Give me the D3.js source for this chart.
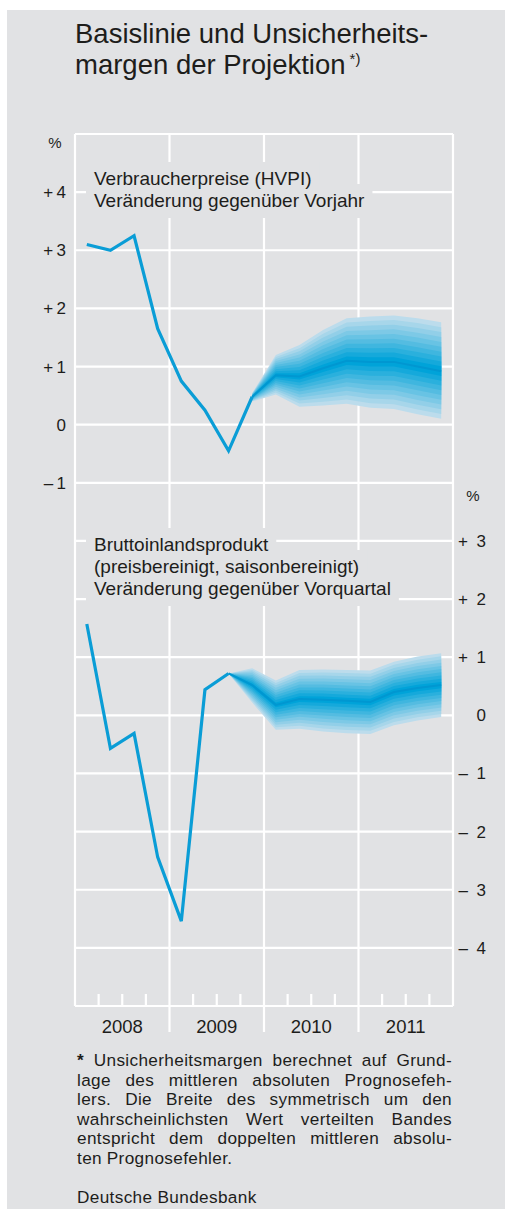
<!DOCTYPE html>
<html>
<head>
<meta charset="utf-8">
<script src="https://cdn.jsdelivr.net/npm/d3@7"></script>
<style>
  body { margin: 0; background: #fff; }
  svg text { font-family: "Liberation Sans", Arial, sans-serif; fill: #1d1d1b; }
</style>
</head>
<body>
<div id="chart"></div>
<script>
// Quarters 2008 Q1 .. 2011 Q4 (index 0..15)
const years = ["2008", "2009", "2010", "2011"];

// HVPI, change on previous year (%)
const hvpiActual = [3.1, 3.0, 3.25, 1.65, 0.75, 0.25, -0.45, 0.48];      // idx 0..7
const hvpiProjStart = 7;
const hvpiCenter = [0.48, 0.85, 0.83, 0.97, 1.10, 1.08, 1.08, 1.00, 0.92]; // idx 7..15
const hvpiUpper  = [0.54, 1.20, 1.37, 1.63, 1.83, 1.86, 1.88, 1.83, 1.76];
const hvpiLower  = [0.40, 0.52, 0.31, 0.33, 0.36, 0.29, 0.27, 0.18, 0.10];

// GDP, price & seasonally adjusted, change on previous quarter (%)
const gdpActual = [1.57, -0.57, -0.31, -2.44, -3.54, 0.44, 0.72];        // idx 0..6
const gdpProjStart = 6;
const gdpCenter = [0.72, 0.52, 0.18, 0.28, 0.27, 0.25, 0.23, 0.40, 0.47, 0.52]; // idx 6..15
const gdpUpper  = [0.72, 0.81, 0.60, 0.78, 0.79, 0.78, 0.77, 0.92, 1.01, 1.07];
const gdpLower  = [0.72, 0.22, -0.25, -0.23, -0.28, -0.31, -0.32, -0.17, -0.09, -0.03];

const hvpiTicks = [4, 3, 2, 1, 0, -1];
const gdpTicks = [3, 2, 1, 0, -1, -2, -3, -4];

const footLines = [
  "Unsicherheitsmargen berechnet auf Grund-",
  "lage des mittleren absoluten Prognosefeh-",
  "lers. Die Breite des symmetrisch um den",
  "wahrscheinlichsten Wert verteilten Bandes",
  "entspricht dem doppelten mittleren absolu-",
  "ten Prognosefehler."
];

const W = 515, H = 1210;
const bg = "#e1e2e4";
const blue = "#0a9dd6";

const svg = d3.select("#chart").append("svg")
  .attr("width", W).attr("height", H);

svg.append("rect").attr("x", 7).attr("y", 10).attr("width", 498).attr("height", 1199)
  .attr("fill", bg);

// Title (one text block, two lines)
const title = svg.append("text").style("font-size", "27.5px");
title.append("tspan").attr("x", 75).attr("y", 43).text("Basislinie und Unsicherheits-");
title.append("tspan").attr("x", 75).attr("y", 74).text("margen der Projektion");
title.append("tspan").attr("dx", 4).attr("dy", -10).style("font-size", "15px").text("*)");

// Frame and scales
const fTop = 134, fBottom = 1006, fLeft = 75, fRight = 453;
const rowH = (fBottom - fTop) / 15;
const x = d3.scaleLinear().domain([0, 16]).range([fLeft, fRight]);
const yTop = d3.scaleLinear().domain([-1, 4]).range([fTop + 6 * rowH, fTop + rowH]);
const yBot = d3.scaleLinear().domain([-4, 3]).range([fTop + 14 * rowH, fTop + 7 * rowH]);
const qx = i => x(i + 0.5);

const grid = svg.append("g").attr("stroke", "#fff").attr("stroke-width", 2.2);
// horizontal lines
d3.range(0, 16).forEach(k => {
  grid.append("line").attr("x1", fLeft).attr("x2", fRight)
    .attr("y1", fTop + k * rowH).attr("y2", fTop + k * rowH);
});
// frame verticals
[fLeft, fRight].forEach(xx => grid.append("line").attr("x1", xx).attr("x2", xx)
  .attr("y1", fTop).attr("y2", fBottom));
// year separators
[4, 8, 12].forEach(i => grid.append("line").attr("x1", x(i)).attr("x2", x(i))
  .attr("y1", fTop).attr("y2", fBottom + 26));
// quarter ticks
d3.range(1, 16).filter(i => i % 4 !== 0).forEach(i => grid.append("line")
  .attr("x1", x(i)).attr("x2", x(i)).attr("y1", fBottom - 12).attr("y2", fBottom));

// Year labels
svg.selectAll(".year").data(years).enter().append("text")
  .attr("x", (d, i) => x(i * 4 + 2)).attr("y", 1033)
  .attr("text-anchor", "middle").style("font-size", "18.5px").text(d => d);

// Axis labels
const fmt = (v, sep) => v > 0 ? "+" + sep + v : v < 0 ? "\u2013" + sep + (-v) : "0";
svg.selectAll(".lt").data(hvpiTicks).enter().append("text")
  .attr("x", 66).attr("y", d => yTop(d) + 6).attr("text-anchor", "end")
  .style("font-size", "17px").text(d => fmt(d, "\u2009"));
svg.append("text").attr("x", 55).attr("y", 148).attr("text-anchor", "middle")
  .style("font-size", "15px").text("%");
svg.selectAll(".rt").data(gdpTicks).enter().append("text")
  .attr("x", 486).attr("y", d => yBot(d) + 6).attr("text-anchor", "end")
  .style("font-size", "17px").text(d => fmt(d, "\u2002"));
svg.append("text").attr("x", 473).attr("y", 501).attr("text-anchor", "middle")
  .style("font-size", "15px").text("%");

// Chart labels with background boxes that cut the grid
function label(lines, y0) {
  const boxes = svg.append("g");
  const t = svg.append("text").style("font-size", "19px");
  lines.forEach((s, i) => {
    const ts = t.append("tspan").attr("x", 94).attr("y", y0 + i * 22).text(s);
    const w = ts.node().getComputedTextLength();
    boxes.append("rect").attr("x", 86).attr("y", y0 + i * 22 - 23)
      .attr("width", w + 16).attr("height", 34).attr("fill", bg);
  });
}
label(["Verbraucherpreise (HVPI)", "Veränderung gegenüber Vorjahr"], 185);
label(["Bruttoinlandsprodukt", "(preisbereinigt, saisonbereinigt)", "Veränderung gegenüber Vorquartal"], 551);

// Fan chart
function fan(y, start, center, upper, lower) {
  const n = 10;
  const col = d3.interpolateRgb("#bcdcec", "#00a3d9");
  const pts = center.map((c, j) => ({ i: start + j, c, u: upper[j], l: lower[j] }));
  for (let k = 0; k < n; k++) {
    const f = 1 - k / n;
    const area = d3.area()
      .x(d => qx(d.i))
      .y0(d => y(d.c - (d.c - d.l) * f))
      .y1(d => y(d.c + (d.u - d.c) * f));
    svg.append("path").datum(pts).attr("d", area).attr("fill", col(k / (n - 1)));
  }
  svg.append("path").datum(pts)
    .attr("d", d3.line().x(d => qx(d.i)).y(d => y(d.c)))
    .attr("fill", "none").attr("stroke", "#0097d1").attr("stroke-width", 2);
}
fan(yTop, hvpiProjStart, hvpiCenter, hvpiUpper, hvpiLower);
fan(yBot, gdpProjStart, gdpCenter, gdpUpper, gdpLower);

// Historical lines
const histLine = y => d3.line().x((d, i) => qx(i)).y(d => y(d));
svg.append("path").datum(hvpiActual).attr("d", histLine(yTop))
  .attr("fill", "none").attr("stroke", blue).attr("stroke-width", 3.2);
svg.append("path").datum(gdpActual).attr("d", histLine(yBot))
  .attr("fill", "none").attr("stroke", blue).attr("stroke-width", 3.2);

// Footnote (justified, one text block)
const fx0 = 77, fx1 = 452, fs = 17.2;
const foot = svg.append("text").style("font-size", fs + "px").style("letter-spacing", "0.35px");
footLines.forEach((line, li) => {
  const yy = 1066 + li * 19.6;
  const words = line.split(" ");
  if (li === 0) words.unshift("*");
  const last = li === footLines.length - 1;
  const nodes = words.map(w => foot.append("tspan").attr("x", 0).attr("y", yy)
    .style("font-weight", w === "*" ? "bold" : null).text(w));
  const widths = nodes.map(n => n.node().getComputedTextLength());
  const total = d3.sum(widths);
  const gap = last ? fs * 0.28 : (fx1 - fx0 - total) / (words.length - 1);
  let cx = fx0;
  nodes.forEach((n, i) => { n.attr("x", cx); cx += widths[i] + gap; });
});
foot.append("tspan").attr("x", fx0).attr("y", 1203).text("Deutsche Bundesbank");
</script>
</body>
</html>
